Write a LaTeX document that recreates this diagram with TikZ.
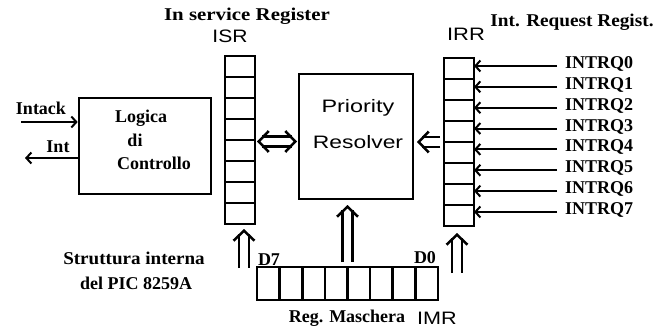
\documentclass[tikz,border=0pt]{standalone}
\usepackage{fontspec}
\setmainfont{Liberation Serif}
\newfontfamily\sansf{Liberation Sans}
\usetikzlibrary{arrows.meta,calc}
\newcommand\hs[2]{\scalebox{#1}[1]{#2}}
\begin{document}
\begin{tikzpicture}[x=1pt,y=-1pt,line join=miter,
  box/.style={draw, line width=2.6pt, inner sep=0pt, outer sep=0pt},
  sep/.style={line width=2.6pt},
  arr/.style={line width=2pt, -{Straight Barb[length=5pt,width=11pt]}},
  dbl/.style={double, double distance=7.5pt, line width=2.5pt},
  head/.style={white, line width=0.1pt, -{Straight Barb[length=10pt,width=21pt,line width=2.5pt,color=black]}},
  lbl/.style={font=\bfseries\fontsize{18}{20}\selectfont, inner sep=0pt},
  slbl/.style={font=\sansf\fontsize{18}{20}\selectfont, inner sep=0pt}]
\useasboundingbox (0,0) rectangle (670,329);

% boxes
\node[box, minimum width=132pt, minimum height=96pt] (logic) at (145,146) {};
\node[box, minimum width=114pt, minimum height=125pt] (pr) at (356,136.5) {};
\node[box, minimum width=30pt, minimum height=168pt] (isr) at (240,140) {};
\node[box, minimum width=30pt, minimum height=168pt] (irr) at (459,142) {};
\node[box, minimum width=181pt, minimum height=33pt] (imr) at (347.5,283.5) {};
\foreach \i in {1,...,7}{
  \draw[sep] ($(isr.north west)!\i/8!(isr.south west)$) -- ($(isr.north east)!\i/8!(isr.south east)$);
  \draw[sep] ($(irr.north west)!\i/8!(irr.south west)$) -- ($(irr.north east)!\i/8!(irr.south east)$);
  \draw[sep] ($(imr.north west)!\i/8!(imr.north east)$) -- ($(imr.south west)!\i/8!(imr.south east)$);
}

% labels
\node[lbl] (tisr) at (247,16) {\hs{1.16}{In service Register}};
\node[slbl] (lisr) at (230,36) {\hs{1.17}{ISR}};
\node[lbl] (tirr) at (572,22) {\hs{1.07}{Int. Request Regist.}};
\node[slbl] (lirr) at (466,34) {\hs{1.22}{IRR}};
\node[lbl] (tintack) at (41,108) {Intack};
\node[lbl] (tint) at (58,147) {Int};
\node[lbl] (tlog) at (141,118) {Logica};
\node[lbl] (tdi) at (135,140) {di};
\node[lbl] (tctl) at (154,163) {Controllo};
\node[slbl] (tpri) at (358,108) {\hs{1.3}{Priority}};
\node[slbl] (tres) at (358,142) {\hs{1.27}{Resolver}};
\node[lbl] (td7) at (269,260) {D7};
\node[lbl] (td0) at (425,258) {D0};
\node[lbl] (tstr) at (134,258) {\hs{1.06}{Struttura interna}};
\node[lbl] (tpic) at (136,283) {del PIC 8259A};
\node[lbl] (treg) at (347,318) {Reg. Maschera};
\node[slbl] (timr) at (437,318) {\hs{1.2}{IMR}};

% interrupt request lines
\foreach \i in {0,...,7}{
  \coordinate (qs\i) at (557,66+20.85*\i);
  \node[lbl, anchor=base west] (q\i) at (565,66+20.85*\i+2.5) {INTRQ\i};
  \draw[arr] (qs\i) -- (qs\i -| irr.east);
}

% Intack / Int
\coordinate (intackin) at (21,122);
\coordinate (intout) at (25,158);
\draw[arr, shorten >=1.3pt] (intackin) -- (intackin -| logic.west);
\draw[arr] (intout -| logic.west) -- (intout);

% double arrows: end points
\coordinate (a1) at ($(isr.east |- 0,141.5)+(2,0)$);
\coordinate (a2) at ($(pr.west |- 0,141.5)+(-2,0)$);
\coordinate (b1) at ($(irr.west |- 0,142)+(-4,0)$);
\coordinate (b2) at ($(pr.east |- 0,142)+(4,0)$);
\coordinate (c1) at ($(imr.north)+(0,-5)$);
\coordinate (c2) at ($(imr.north |- pr.south)+(0,6)$);
\coordinate (d1) at (244,268);
\coordinate (d2) at ($(d1 |- isr.south)+(0,5)$);
\coordinate (e1) at (457,273);
\coordinate (e2) at ($(e1 |- irr.south)+(0,7)$);

% ISR <-> Priority Resolver
\draw[dbl] ($(a1)!5pt!(a2)$) -- ($(a2)!5pt!(a1)$);
\draw[head] ($(a2)!14pt!(a1)$) -- (a2);
\draw[head] ($(a1)!14pt!(a2)$) -- (a1);
% single-headed double arrows
\foreach \s/\t in {b1/b2, c1/c2, d1/d2, e1/e2}{
  \draw[dbl] (\s) -- ($(\t)!5pt!(\s)$);
  \draw[head] ($(\t)!14pt!(\s)$) -- (\t);
}
\end{tikzpicture}
\end{document}
